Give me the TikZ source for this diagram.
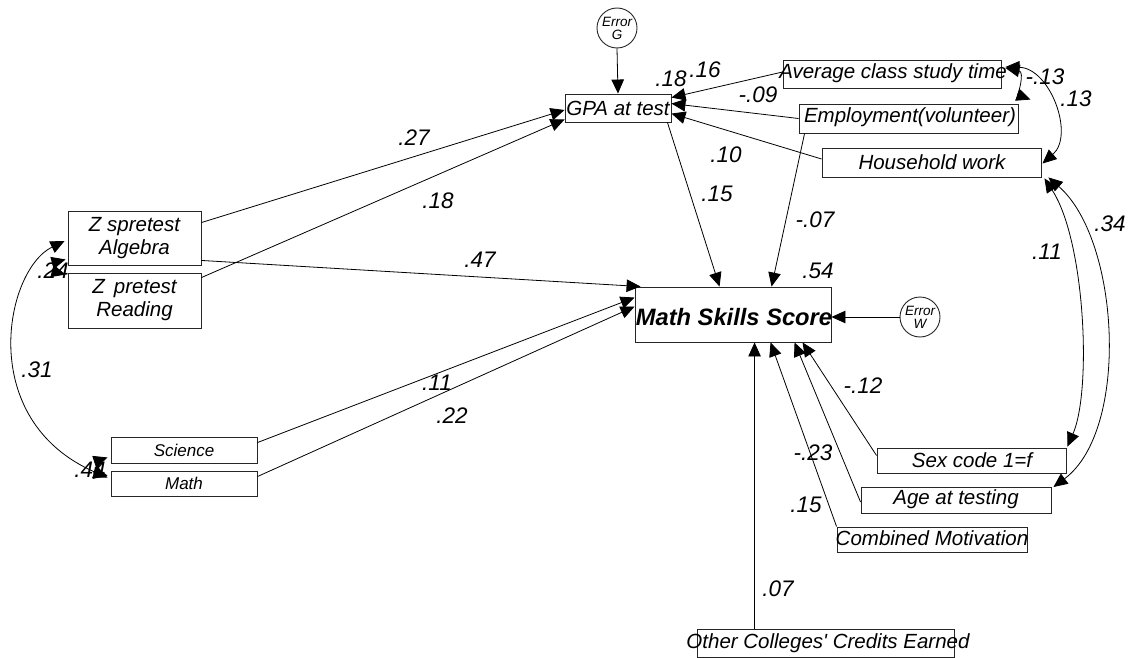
\documentclass[tikz,border=0pt]{standalone}
\usepackage{fontspec}
\setmainfont{Liberation Sans}
\usetikzlibrary{arrows.meta,calc}
\tikzset{
  vbox/.style={draw=black!85, line width=0.9pt, rectangle, inner sep=0pt},
  vtxt/.style={inner sep=0pt, font=\fontsize{20.5}{23}\selectfont\itshape},
  stxt/.style={inner sep=0pt, font=\fontsize{17}{19}\selectfont\itshape},
  errc/.style={draw=black!85, line width=0.9pt, circle, minimum size=40pt, inner sep=0pt, align=center, font=\fontsize{13.5}{13}\selectfont\itshape},
  coef/.style={inner sep=0pt, font=\fontsize{22.5}{24}\selectfont\itshape},
  conn/.style={line width=0.8pt, -{Triangle[length=14pt,width=12.5pt]}},
  corr/.style={line width=0.8pt, {Triangle[length=14pt,width=12.5pt]}-{Triangle[length=14pt,width=12.5pt]}}
}
\begin{document}
\begin{tikzpicture}[x=1pt,y=-1pt]
\useasboundingbox[fill=white] (0,0) rectangle (1129,658);

% boxes
\node[vbox, minimum width=106pt, minimum height=28pt] (gpa) at (618,108) {};
\node[vtxt] at (gpa.center) {GPA at test};
\node[vbox, minimum width=218pt, minimum height=28pt] (avg) at (892,74) {};
\node[vtxt] at (893,73) {Average class study time};
\node[vbox, minimum width=219pt, minimum height=29pt] (emp) at (908.5,118.5) {};
\node[vtxt] at (910,117.5) {Employment(volunteer)};
\node[vbox, minimum width=219pt, minimum height=29pt] (hh) at (931.5,162.5) {};
\node[vtxt] at (932,162) {Household work};
\node[vbox, minimum width=133pt, minimum height=54pt] (alg) at (134.5,238) {};
\node[vtxt, align=center] at (alg.center) {Z spretest\\Algebra};
\node[vbox, minimum width=133pt, minimum height=55pt] (rdg) at (134.5,300.5) {};
\node[vtxt, align=center] at (rdg.center) {Z\, pretest\\Reading};
\node[vbox, minimum width=146pt, minimum height=26pt] (sci) at (184,450) {};
\node[stxt] at (sci.center) {Science};
\node[vbox, minimum width=146pt, minimum height=25pt] (mth) at (184,483.5) {};
\node[stxt] at (mth.center) {Math};
\node[vbox, minimum width=196pt, minimum height=55pt] (mss) at (733,314.5) {};
\node[inner sep=0pt, font=\fontsize{23.7}{26}\selectfont\bfseries\itshape] at (734,317) {Math Skills Score};
\node[vbox, minimum width=189pt, minimum height=25pt] (sex) at (971.5,460.5) {};
\node[vtxt] at (972,460.5) {Sex code 1=f};
\node[vbox, minimum width=190pt, minimum height=26pt] (age) at (956,500) {};
\node[vtxt] at (956,499) {Age at testing};
\node[vbox, minimum width=190pt, minimum height=25pt] (cmb) at (932,539.5) {};
\node[vtxt] at (932,538.5) {Combined Motivation};
\node[vbox, minimum width=257pt, minimum height=28pt] (oth) at (825.5,643) {};
\node[vtxt] at (828,643) {Other Colleges\textquotesingle{} Credits Earned};

% error terms
\node[errc] (errG) at (617,28) {Error\\G};
\node[errc] (errW) at (920,317) {Error\\W};

% paths into GPA
\draw[conn] (errG.south) -- (gpa.north);
\draw[conn] ($(avg.west)+(0,-2)$) -- ($(gpa.north east)+(0,4)$);
\draw[conn] (emp.west) -- ($(gpa.north east)+(0,10)$);
\draw[conn] ($(hh.west)+(0,-3.5)$) -- ($(gpa.north east)+(0,20)$);
\draw[conn] ($(alg.north east)+(0,12)$) -- ($(gpa.west)+(0,2)$);
\draw[conn] ($(rdg.north east)+(0,5)$) -- ($(gpa.south west)+(0,-3)$);

% paths into Math Skills Score
\draw[conn] ($(gpa.south east)+(-4,0)$) -- ($(mss.north west)+(85,0)$);
\draw[conn] ($(emp.south west)+(6,0)$) -- ($(mss.north west)+(137,0)$);
\draw[conn] ($(alg.south east)+(0,-5)$) -- ($(mss.north west)+(6,0)$);
\draw[conn] ($(sci.north east)+(0,6)$) -- ($(mss.north west)+(0,11)$);
\draw[conn] ($(mth.north east)+(0,6)$) -- ($(mss.north west)+(0,20)$);
\draw[conn] (errW.west) -- (mss.east |- errW.west);
\draw[conn] ($(oth.north west)+(58,0)$) -- ($(mss.south west)+(120,0)$);
\draw[conn] (cmb.north west) -- ($(mss.south west)+(136,0)$);
\draw[conn] ($(age.west)+(0,2)$) -- ($(mss.south west)+(160,0)$);
\draw[conn] ($(sex.west)+(0,-5)$) -- ($(mss.south west)+(168,0)$);

% correlations left
\draw[corr] ($(alg.south west)+(-2,-6)$) .. controls (56,262) and (56,272) .. ($(rdg.north west)+(-2,2)$);
\draw[corr] ($(alg.west)+(-3,3)$) .. controls (5,270) and (-25,420) .. ($(mth.north west)+(-3,7)$);
\draw[corr] ($(sci.south west)+(-3,-6)$) .. controls (100,460) and (100,474) .. ($(mth.north west)+(-3,5)$);

% correlations right
\draw[corr] ($(avg.east)+(4,-6)$) .. controls (1025,72) and (1018,95) .. ($(emp.north east)+(12,-4)$);
\draw[corr] ($(avg.east)+(4,-7)$) .. controls (1050,68) and (1075,135) .. ($(hh.east)+(1,1)$);
\draw[corr] ($(hh.south east)+(3,1)$) .. controls (1085,240) and (1092,390) .. ($(sex.north east)+(1,-1)$);
\draw[corr] ($(hh.south east)+(7,0)$) .. controls (1120,240) and (1130,430) .. ($(age.east)+(2,-13)$);

% coefficients
\node[coef] at (705,70) {.16};
\node[coef] at (671,79) {.18};
\node[coef] at (758,95) {-.09};
\node[coef] at (726,155) {.10};
\node[coef] at (717,194) {.15};
\node[coef] at (815,220) {-.07};
\node[coef] at (818,271) {.54};
\node[coef] at (414,138) {.27};
\node[coef] at (438,201) {.18};
\node[coef] at (480,260) {.47};
\node[coef] at (437,383) {.11};
\node[coef] at (452,416) {.22};
\node[coef] at (53,271) {.24};
\node[coef] at (37,370) {.31};
\node[coef] at (90,470) {.44};
\node[coef] at (1045,77) {-.13};
\node[coef] at (1076,99) {.13};
\node[coef] at (1047,252) {.11};
\node[coef] at (1110,224) {.34};
\node[coef] at (863,386) {-.12};
\node[coef] at (813,453) {-.23};
\node[coef] at (806,505) {.15};
\node[coef] at (778,589) {.07};
\end{tikzpicture}
\end{document}
